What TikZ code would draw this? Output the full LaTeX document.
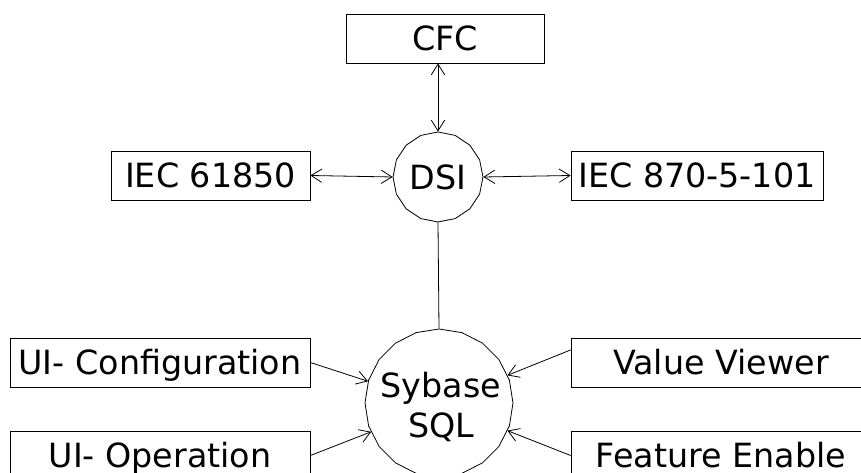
\documentclass[tikz,border=0pt]{standalone}
\usepackage{fontspec}
\setmainfont{DejaVu Sans}
\usetikzlibrary{arrows.meta,shapes.geometric}
\begin{document}
\begin{tikzpicture}[x=0.75pt,y=-0.75pt, line width=0.6pt,
  every node/.style={font=\fontsize{25}{30}\selectfont},
  boxnode/.style={draw, inner sep=0pt, minimum height=36.75pt, text height=18.2pt, text depth=0pt},
  polynode/.style={draw, regular polygon, inner sep=0pt},
  txt/.style={inner sep=0pt, anchor=base},
  arr/.style={-{Straight Barb[length=8pt,width=10pt]}},
  dblarr/.style={{Straight Barb[length=8pt,width=10pt]}-{Straight Barb[length=8pt,width=10pt]}}]
\useasboundingbox (0,0) rectangle (861,473);
\clip (0,0) rectangle (861,473);
\node[boxnode, minimum width=148.5pt] (cfc) at (445,38.5) {CFC};
\node[boxnode, minimum width=149.25pt] (iec1) at (210.5,175.5) {IEC 61850};
\node[boxnode, minimum width=189pt] (iec2) at (697,175.5) {IEC 870-5-101};
\node[boxnode, minimum width=225pt] (uic) at (160,362.5) {UI- Configuration};
\node[boxnode, minimum width=225pt] (uio) at (160,455.5) {UI- Operation};
\node[boxnode, minimum width=225pt] (vv) at (721,362.5) {Value Viewer};
\node[boxnode, minimum width=225pt] (fe) at (721,455.5) {Feature Enable};
\node[polynode, regular polygon sides=16, shape border rotate=11.25, minimum size=67.5pt, text height=18.2pt, text depth=0pt] (dsi) at (438,177) {DSI};
\node[polynode, regular polygon sides=20, shape border rotate=9, minimum size=111pt] (sql) at (439,403) {};
\node[txt] (sybase) at (441,398) {Sybase};
\node[txt] (sqltext) at (441,438) {SQL};
\draw[dblarr] (dsi.north) -- (dsi.north |- cfc.south);
\draw[dblarr] (iec1.east) -- (dsi.west);
\draw[dblarr] (iec2.west) -- (dsi.east);
\draw (dsi.south) -- (sql.north);
\draw[arr] (uic.east) -- (sql.163);
\draw[arr] (uio.east) -- (sql.203);
\draw[arr] ([yshift=9.4pt]vv.west) -- (sql.22);
\draw[arr] (fe.west) -- (sql.-22);
\end{tikzpicture}
\end{document}
